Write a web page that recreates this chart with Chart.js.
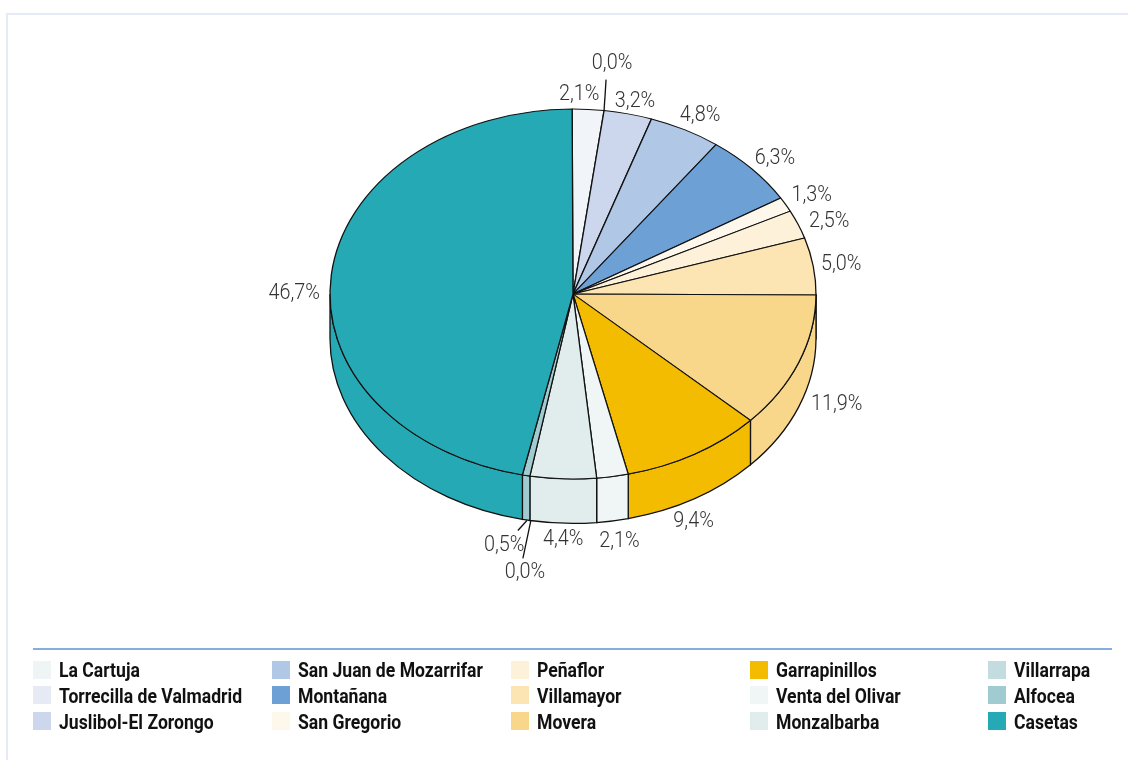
<!DOCTYPE html>
<html>
<head>
<meta charset="utf-8">
<style>
  html, body { margin: 0; padding: 0; background: #fff; }
  body { position: relative; width: 1128px; height: 760px; overflow: hidden; }
  #frame { position: absolute; left: 6px; top: 13px; right: 0; bottom: 0; border-left: 2px solid #e6eaf5; border-top: 2px solid #e6eaf5; }
  #pie { position: absolute; left: 0; top: 0; }
  #rule { position: absolute; left: 33px; top: 648px; width: 1079px; height: 2px; background: #84aedd; }
  .key { position: absolute; font: 700 20px Roboto, sans-serif; color: #111; white-space: nowrap; line-height: 18px; transform: scaleX(0.88); transform-origin: left center; }
  .box { position: absolute; width: 18px; height: 18px; }
</style>
</head>
<body>
<div id="frame"></div>
<canvas id="pie" width="1128" height="760"></canvas>
<div id="rule"></div>
<script src="https://cdn.jsdelivr.net/npm/chart.js@4"></script>
<script>
const names = ['La Cartuja', 'Torrecilla de Valmadrid', 'Juslibol-El Zorongo', 'San Juan de Mozarrifar', 'Montañana',
  'San Gregorio', 'Peñaflor', 'Villamayor', 'Movera', 'Garrapinillos', 'Venta del Olivar', 'Monzalbarba',
  'Villarrapa', 'Alfocea', 'Casetas']
const shares = [2.1, 0.0, 3.2, 4.8, 6.3, 1.3, 2.5, 5.0, 11.9, 9.4, 2.1, 4.4, 0.0, 0.5, 46.7]
const keyColors = ['#eff5f4', '#e6eaf5', '#ccd7ee', '#b1c7e6', '#6da1d6', '#fef8ec', '#fef1da', '#fce4b3', '#f8d78b',
  '#f3bc00', '#f0f6f6', '#e1eded', '#c2dcdf', '#a0cbd0', '#25aab5']
// first slice is bluer in the pie than its legend box
const sliceColors = ['#f1f5fa'].concat(keyColors.slice(1))

// label nudges from the slice's mid point on the rim
const labelNudge = [[-9, -15], [8, -47], [7, -12], [15, -14], [23, -10], [26, -9], [31, -3], [28, -2],
  [38, 42], [-1, 67], [7, 65], [0, 61], [-5, 97], [-22, 70], [-37, 19]]
// leader lines: slice index, start offset from its edge, end offset from start
const leaders = [
  { slice: 1, from: [0, 0], to: [2, -31], wall: false },
  { slice: 12, from: [1, 0], to: [-8, 38], wall: true },
  { slice: 13, from: [-3, 0], to: [-9, 10], wall: true },
]

const squash = 0.761  // ry / rx of the tilted pie
const depth = 44.5
const lineColor = '#111'
const lineWidth = 1.3

const pie3d = {
  id: 'pie3d',
  beforeDatasetsDraw(chart) {
    const ctx = chart.ctx
    const arcs = chart.getDatasetMeta(0).data
    const { x, y, outerRadius: r } = arcs[0]
    const ry = r * squash
    ctx.save()
    ctx.strokeStyle = lineColor
    ctx.lineWidth = lineWidth
    arcs.forEach((arc, i) => {
      const a0 = Math.max(arc.startAngle, 0)
      const a1 = Math.min(arc.endAngle, Math.PI)
      if (a1 <= a0) return
      ctx.beginPath()
      ctx.ellipse(x, y, r, ry, 0, a0, a1)
      ctx.ellipse(x, y + depth, r, ry, 0, a1, a0, true)
      ctx.closePath()
      ctx.fillStyle = sliceColors[i]
      ctx.fill()
      ctx.stroke()
    })
    ctx.restore()
    // the library draws the top face, squashed around the pie centre
    ctx.save()
    ctx.translate(x, y)
    ctx.scale(1, squash)
    ctx.translate(-x, -y)
  },
  afterDatasetsDraw(chart) {
    const ctx = chart.ctx
    ctx.restore()
    const arcs = chart.getDatasetMeta(0).data
    const { x, y, outerRadius: r } = arcs[0]
    const ry = r * squash

    ctx.save()
    ctx.strokeStyle = lineColor
    ctx.lineWidth = lineWidth
    leaders.forEach(l => {
      const a = arcs[l.slice].startAngle
      const sx = x + r * Math.cos(a) + l.from[0]
      const sy = y + ry * Math.sin(a) + l.from[1] + (l.wall ? depth : 0)
      ctx.beginPath()
      ctx.moveTo(sx, sy)
      ctx.lineTo(sx + l.to[0], sy + l.to[1])
      ctx.stroke()
    })

    ctx.font = '300 22px Roboto, sans-serif'
    ctx.fillStyle = '#333'
    ctx.textAlign = 'center'
    ctx.textBaseline = 'middle'
    arcs.forEach((arc, i) => {
      const mid = (arc.startAngle + arc.endAngle) / 2
      const lx = x + r * Math.cos(mid) + labelNudge[i][0]
      const ly = y + ry * Math.sin(mid) + labelNudge[i][1]
      ctx.save()
      ctx.translate(lx, ly)
      ctx.scale(0.9, 1)
      ctx.fillText(shares[i].toFixed(1).replace('.', ',') + '%', 0, 0)
      ctx.restore()
    })
    ctx.restore()
  }
}

new Chart(document.getElementById('pie'), {
  type: 'pie',
  data: {
    labels: names,
    datasets: [{
      data: shares,
      backgroundColor: sliceColors,
      borderColor: lineColor,
      borderWidth: lineWidth,
    }]
  },
  options: {
    responsive: false,
    animation: false,
    events: [],
    radius: 243,
    rotation: -0.2,
    layout: { padding: { left: 18, right: 0, top: 0, bottom: 172 } },
    plugins: { legend: { display: false }, tooltip: { enabled: false } },
  },
  plugins: [pie3d],
})

// legend: five columns of three, filled top to bottom
const keyCols = [33, 272, 511, 750, 988]
const keyRows = [661, 686, 712]
const textRows = [661, 687, 713]
names.forEach((n, i) => {
  const col = keyCols[Math.floor(i / 3)]
  const box = document.createElement('div')
  box.className = 'box'
  box.style.left = col + 'px'
  box.style.top = keyRows[i % 3] + 'px'
  box.style.background = keyColors[i]
  document.body.appendChild(box)
  const el = document.createElement('div')
  el.className = 'key'
  el.style.left = (col + 26) + 'px'
  el.style.top = textRows[i % 3] + 'px'
  el.textContent = n
  document.body.appendChild(el)
})
</script>
</body>
</html>
